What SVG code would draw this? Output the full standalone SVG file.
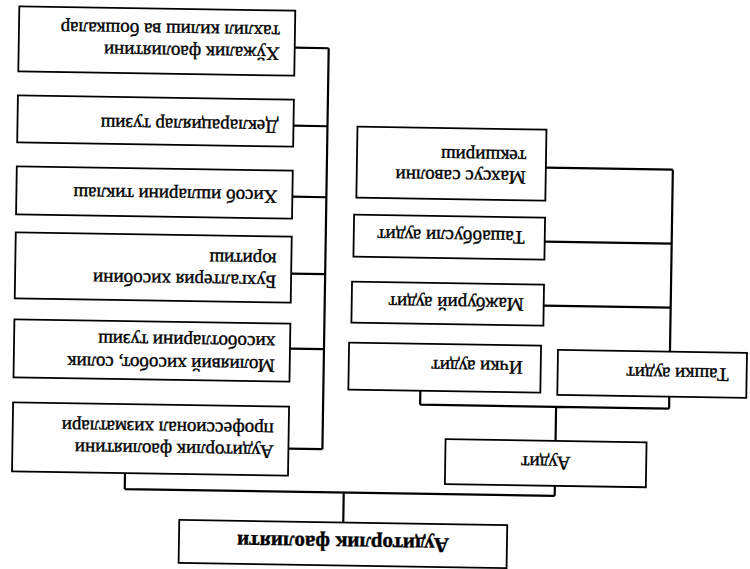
<svg xmlns="http://www.w3.org/2000/svg" width="750" height="569" viewBox="0 0 750 569">
<style>
.box{fill:#fff;stroke:#000;stroke-width:1.8}
.ln{fill:none;stroke:#000;stroke-width:2.2}
.t{font-family:"Liberation Serif","Times New Roman",serif;font-size:19px;fill:#000;stroke:#000;stroke-width:0.4}
.tm{font-family:"Liberation Serif","Times New Roman",serif;font-size:21px;font-weight:bold;fill:#000;stroke:#000;stroke-width:0.4;text-anchor:middle}
.tc{text-anchor:middle}
</style>
<rect width="750" height="569" fill="#fff"/>
<g transform="rotate(180.9 375 284.5)">
<g id="connectors">
<path class="ln" d="M403,46 V76 M192,76 H622 M622,76 V92 M192,76 V86"/>
<path class="ln" d="M425,119 V520 M425,520 H459 M425,442 H459 M425,371 H459 M425,294 H459 M425,219 H459 M425,119 H459"/>
<path class="ln" d="M192,131 V165 M79,165 H328 M328,165 V179 M79,165 V177"/>
<path class="ln" d="M79,222 V404 M79,404 H206 M79,330 H206 M79,266 H206"/>
</g>
<g id="n-main">
<rect class="box" x="239" y="3" width="328" height="43"/>
<text class="tm" x="403" y="32">Аудиторлик фаолияти</text>
</g>
<g id="n-hujalik">
<rect class="box" x="459" y="492" width="276" height="65"/>
<text class="t" x="474" y="520">Хўжалик фаолиятини</text>
<text class="t" x="474" y="542">тахлил килиш ва бошкалар</text>
</g>
<g id="n-deklar">
<rect class="box" x="459" y="421" width="276" height="47"/>
<text class="t" x="474" y="447">Декларациялар тузиш</text>
</g>
<g id="n-hisob">
<rect class="box" x="459" y="349" width="276" height="48"/>
<text class="t" x="474" y="377">Хисоб ишларини тиклаш</text>
</g>
<g id="n-buhg">
<rect class="box" x="459" y="265" width="276" height="66"/>
<text class="t" x="474" y="292">Бухгалтерия хисобини</text>
<text class="t" x="474" y="314">юритиш</text>
</g>
<g id="n-moliya">
<rect class="box" x="459" y="186" width="276" height="58"/>
<text class="t" x="474" y="208">Молиявий хисобот, солик</text>
<text class="t" x="474" y="231">хисоботларини тузиш</text>
</g>
<g id="n-prof">
<rect class="box" x="459" y="92" width="276" height="69"/>
<text class="t" x="474" y="122">Аудиторлик фаолиятини</text>
<text class="t" x="474" y="144">профессионал хизматлари</text>
</g>
<g id="n-audit">
<rect class="box" x="101" y="86" width="201" height="45"/>
<text class="t tc" x="201.5" y="115">Аудит</text>
</g>
<g id="n-ichki">
<rect class="box" x="208" y="179" width="192" height="47"/>
<text class="t" x="226" y="210">Ички аудит</text>
</g>
<g id="n-tashki">
<rect class="box" x="2" y="177" width="189" height="45"/>
<text class="t" x="20" y="206">Ташки аудит</text>
</g>
<g id="n-majburiy">
<rect class="box" x="206" y="246" width="192" height="41"/>
<text class="t" x="226" y="273">Мажбурий аудит</text>
</g>
<g id="n-tashabbus">
<rect class="box" x="206" y="312" width="191" height="42"/>
<text class="t" x="226" y="340">Ташаббусли аудит</text>
</g>
<g id="n-mahsus">
<rect class="box" x="206" y="371" width="189" height="71"/>
<text class="t" x="226" y="400">Махсус саволни</text>
<text class="t" x="226" y="421">текшириш</text>
</g>
</g>
</svg>
